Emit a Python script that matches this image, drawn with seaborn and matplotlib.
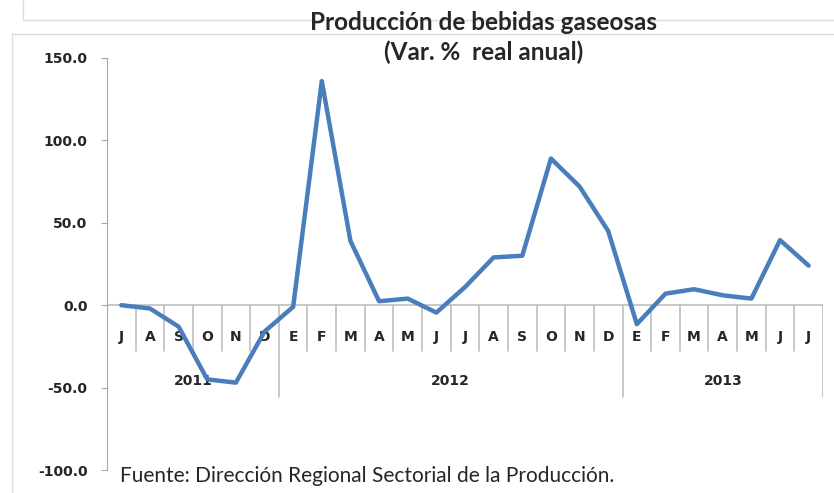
import numpy as np
import pandas as pd
import seaborn as sns
import matplotlib.pyplot as plt
from matplotlib.lines import Line2D

# data (Var. % real anual)
meses = ['J', 'A', 'S', 'O', 'N', 'D',
         'E', 'F', 'M', 'A', 'M', 'J', 'J', 'A', 'S', 'O', 'N', 'D',
         'E', 'F', 'M', 'A', 'M', 'J', 'J']
anios = ['2011', '2012', '2013']
meses_por_anio = [6, 12, 7]
valores = [0.0, -2.0, -13.0, -45.0, -47.0, -16.0,
           -1.0, 136.0, 39.0, 2.4, 4.0, -4.5, 11.0, 29.0, 30.0, 89.0, 72.0, 45.0,
           -11.5, 7.0, 9.7, 6.0, 4.0, 39.5, 24.0]

df = pd.DataFrame({'pos': np.arange(len(meses)), 'mes': meses, 'valor': valores})

sns.set_style('white')
plt.rcParams['font.family'] = ['DejaVu Sans']

fig = plt.figure(figsize=(8.34, 4.93), dpi=100)
ax = fig.add_axes([107/834, 1-470/493, 716/834, 412/493])

sns.lineplot(data=df, x='pos', y='valor', color='#4a7ebb', linewidth=3.2, ax=ax, zorder=5)

ax.set_xlim(-0.5, len(meses) - 0.5)
ax.set_ylim(-100, 150)
ax.set_yticks([-100, -50, 0, 50, 100, 150])
ax.set_yticklabels([f'{t:.1f}' for t in [-100, -50, 0, 50, 100, 150]],
                   fontsize=10, fontweight='bold')
ax.tick_params(axis='y', direction='out', length=4, color='#a6a6a6', pad=10, left=True)
ax.set_xticks([])
ax.set_xlabel('')
ax.set_ylabel('')
for s in ['top', 'right', 'bottom']:
    ax.spines[s].set_visible(False)
ax.spines['left'].set_color('#a6a6a6')

# category axis at zero
gris = '#bfbfbf'
ax.axhline(0, color=gris, linewidth=1.2, zorder=2)
limites = np.cumsum([0] + meses_por_anio) - 0.5
for i in range(1, len(meses) + 1):
    x = i - 0.5
    baja = -56 if x in limites else -28
    ax.plot([x, x], [0, baja], color=gris, linewidth=1.2, zorder=2)
for i, m in enumerate(meses):
    ax.text(i, -19, m, ha='center', va='center', fontsize=10, fontweight='bold', zorder=3)
for k, a in enumerate(anios):
    centro = (limites[k] + limites[k + 1]) / 2
    ax.text(centro, -46, a, ha='center', va='center', fontsize=10, fontweight='bold', zorder=3)

fig.text(484/834, 1-22/493, 'Producción de bebidas gaseosas', ha='center', va='center',
         fontsize=17.5, fontweight='bold', family=['Lato', 'DejaVu Sans'])
fig.text(484/834, 1-52/493, '(Var. %  real anual)', ha='center', va='center',
         fontsize=17.5, fontweight='bold', family=['Lato', 'DejaVu Sans'])
fig.text(120/834, 1-476/493, 'Fuente: Dirección Regional Sectorial de la Producción.',
         ha='left', va='center', fontsize=15, family=['Lato', 'DejaVu Sans'])

# faint frame lines
borde = '#dcdcdc'
fig.add_artist(Line2D([23/834, 1], [1-20/493, 1-20/493], color=borde, linewidth=1))
fig.add_artist(Line2D([23/834, 23/834], [1-20/493, 1], color=borde, linewidth=1))
fig.add_artist(Line2D([12/834, 1], [1-34/493, 1-34/493], color=borde, linewidth=1))
fig.add_artist(Line2D([12/834, 12/834], [0, 1-34/493], color=borde, linewidth=1))

fig.savefig('out.png', dpi=100)
